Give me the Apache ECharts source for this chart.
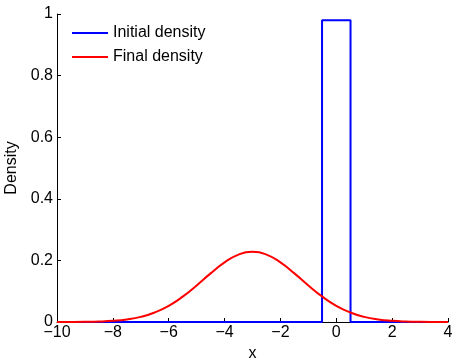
<!DOCTYPE html>
<html>
<head>
<meta charset="utf-8">
<script src="https://cdn.jsdelivr.net/npm/echarts@6/dist/echarts.min.js"></script>
<style>
html, body { margin: 0; padding: 0; background: #fff; }
#main { width: 453px; height: 360px; }
</style>
</head>
<body>
<div id="main"></div>
<script>
// initial density: box from -0.51 to 0.51
var initX = [-10, -0.51, -0.51, 0.51, 0.51, 4];
var initY = [0, 0, 0.98, 0.98, 0, 0];

// final density, every 0.5
var finalX = [-10, -9.5, -9, -8.5, -8, -7.5, -7, -6.5, -6, -5.5, -5, -4.5, -4, -3.5, -3,
              -2.5, -2, -1.5, -1, -0.5, 0, 0.5, 1, 1.5, 2, 2.5, 3, 3.5, 4];
var finalY = [0.0001, 0.0002, 0.0006, 0.0016, 0.0039, 0.0084, 0.0167, 0.0309, 0.0525, 0.0822,
              0.1187, 0.1579, 0.1937, 0.2189, 0.228, 0.2189, 0.1937, 0.1579, 0.1187, 0.0822,
              0.0525, 0.0309, 0.0167, 0.0084, 0.0039, 0.0016, 0.0006, 0.0002, 0.0001];

var xTicks = [-10, -8, -6, -4, -2, 0, 2, 4];
var yTicks = [0, 0.2, 0.4, 0.6, 0.8, 1];

function pairs(xs, ys) {
    var out = [];
    for (var i = 0; i < xs.length; i++) out.push([xs[i], ys[i]]);
    return out;
}

var font = 'Liberation Sans, Arial, sans-serif';
var myChart = echarts.init(document.getElementById('main'));

var option = {
    animation: false,
    backgroundColor: '#fff',
    grid: { left: 57, right: 5, top: 14, bottom: 38, containLabel: false, outerBoundsMode: 'none' },
    legend: {
        left: 67, top: 20, orient: 'vertical',
        itemWidth: 36, itemHeight: 2, itemGap: 8,
        textStyle: { fontFamily: font, fontSize: 16, color: '#000' },
        data: [
            { name: 'Initial density', icon: 'rect' },
            { name: 'Final density', icon: 'rect' }
        ]
    },
    xAxis: {
        type: 'value', min: xTicks[0], max: xTicks[xTicks.length - 1], interval: 2,
        name: 'x', nameLocation: 'middle', nameGap: 20,
        nameTextStyle: { fontFamily: font, fontSize: 16, color: '#000' },
        axisLine: { onZero: false, lineStyle: { color: '#000', width: 1 } },
        axisTick: { inside: true, length: 4, lineStyle: { color: '#000' } },
        axisLabel: {
            fontFamily: font, fontSize: 16, color: '#000', margin: 3,
            formatter: function (v) { return String(v).replace('-', '\u2212'); }
        },
        splitLine: { show: false }
    },
    yAxis: {
        type: 'value', min: yTicks[0], max: yTicks[yTicks.length - 1], interval: 0.2,
        name: 'Density', nameLocation: 'middle', nameGap: 34,
        nameTextStyle: { fontFamily: font, fontSize: 16, color: '#000' },
        axisLine: { show: true, onZero: false, lineStyle: { color: '#000', width: 1 } },
        axisTick: { show: true, inside: true, length: 4, lineStyle: { color: '#000' } },
        axisLabel: { fontFamily: font, fontSize: 16, color: '#000', margin: 4 },
        splitLine: { show: false }
    },
    series: [
        {
            name: 'Initial density', type: 'line', symbol: 'none',
            color: '#0000ff',
            lineStyle: { color: '#0000ff', width: 2 },
            data: pairs(initX, initY)
        },
        {
            name: 'Final density', type: 'line', symbol: 'none', smooth: true,
            color: '#ff0000',
            lineStyle: { color: '#ff0000', width: 2 },
            data: pairs(finalX, finalY)
        }
    ]
};
myChart.setOption(option);
</script>
</body>
</html>
